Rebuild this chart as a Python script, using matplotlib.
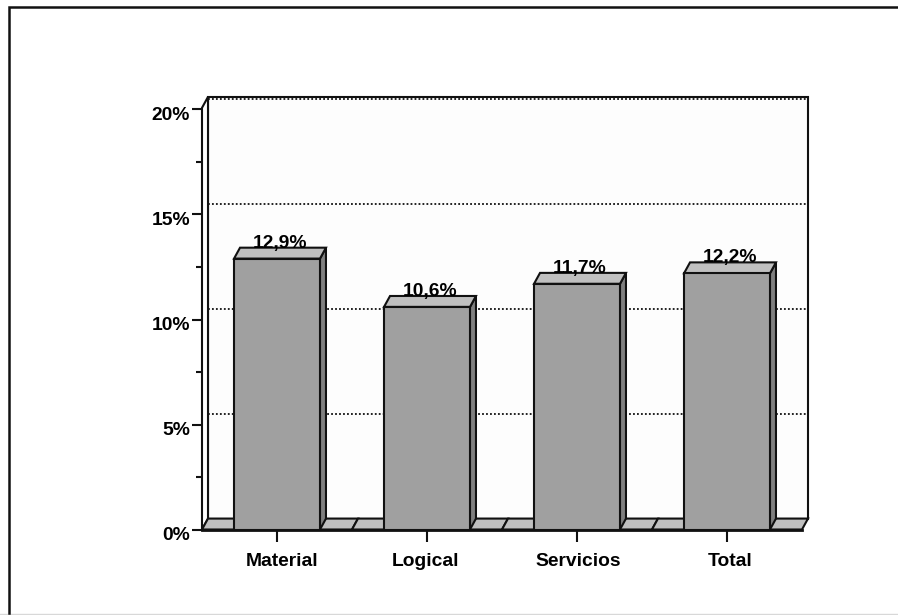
import matplotlib
matplotlib.use('Agg')
import matplotlib.pyplot as plt
from matplotlib.patches import Polygon
from matplotlib.transforms import ScaledTranslation

categories = ['Material', 'Logical', 'Servicios', 'Total']
values = [12.9, 10.6, 11.7, 12.2]
labels = ['12,9%', '10,6%', '11,7%', '12,2%']
major_ticks = [0, 5, 10, 15, 20]
major_labels = ['0%', '5%', '10%', '15%', '20%']
minor_ticks = [2.5, 7.5, 12.5, 17.5]
grid_levels = [5, 10, 15, 20]

W, H = 898, 615
plt.rcParams['font.family'] = ['Liberation Sans', 'DejaVu Sans']

fig = plt.figure(figsize=(W / 100, H / 100), dpi=100)
fig.patch.set_facecolor('white')

# page border: dark on top and left, pale on the bottom
border = fig.add_axes([0, 0, 1, 1], zorder=0)
border.set_xlim(0, W)
border.set_ylim(H, 0)
border.axis('off')
border.plot([0, W], [614, 614], color='#d8d8d8', lw=1)
border.plot([9, 9, W], [613, 7, 7], color='#111111', lw=1.8, solid_joinstyle='miter')

# front plane of the chart, 150 px per category, 21 px per percent
ax = fig.add_axes([202 / W, 1 - 529.5 / H, 600 / W, 420 / H], zorder=1)
ax.set_xlim(-0.5, 3.5)
ax.set_ylim(0, 20)
ax.patch.set_visible(False)
for s in ax.spines.values():
    s.set_visible(False)

dx = 0.04  # depth offset of the 3d look
dy = 0.52
top = 20.6
bw = 0.573
edge = '#111111'


def poly(pts, fc, z, lw=1.5):
    ax.add_patch(Polygon(pts, closed=True, facecolor=fc, edgecolor=edge, lw=lw,
                         zorder=z, clip_on=False, joinstyle='miter'))


# back wall
poly([(-0.5 + dx, dy), (-0.5 + dx, top), (3.5 + dx, top), (3.5 + dx, dy)], '#fdfdfd', 1)
# left wall sliver
poly([(-0.5, 0), (-0.5, top - dy), (-0.5 + dx, top), (-0.5 + dx, dy)], '#ffffff', 1)
# floor, one piece per category
for i in range(len(categories)):
    poly([(i - 0.5, 0), (i - 0.5 + dx, dy), (i + 0.5 + dx, dy), (i + 0.5, 0)], '#c0c0c0', 2)

for g in grid_levels:
    ax.plot([-0.5 + dx, 3.5 + dx], [g + dy, g + dy], color='#111111', lw=1.3,
            linestyle=(0, (1, 1.2)), zorder=2, clip_on=False)

for i, v in enumerate(values):
    x0 = i - bw / 2
    x1 = i + bw / 2
    poly([(x1, 0), (x1 + dx, dy), (x1 + dx, v + dy), (x1, v)], '#808080', 3)
    poly([(x0, v), (x0 + dx, v + dy), (x1 + dx, v + dy), (x1, v)], '#c0c0c0', 3)
    poly([(x0, 0), (x0, v), (x1, v), (x1, 0)], '#a0a0a0', 3)
    ax.text(i + 0.02, v + 0.33, labels[i], ha='center', va='bottom', fontsize=13.9,
            fontweight='bold', color='black', zorder=4, clip_on=False)

ax.plot([-0.5, 3.5], [0, 0], color=edge, lw=2, zorder=4, clip_on=False)

ax.set_xticks(range(len(categories)))
ax.set_xticklabels(categories, fontsize=13.9, fontweight='bold')
ax.set_yticks(major_ticks)
ax.set_yticklabels(major_labels, fontsize=13.9, fontweight='bold')
ax.set_yticks(minor_ticks, minor=True)
ax.tick_params(axis='x', length=8.6, width=1.5, color=edge, pad=8)
ax.tick_params(axis='y', which='major', length=7.2, width=1.5, color=edge, pad=1.4)
ax.tick_params(axis='y', which='minor', length=4.3, width=1.5, color=edge)

# labels sit a bit off their ticks in the original
nudge = [4, -1, 1, 2]
for lab, n in zip(ax.get_xticklabels(), nudge):
    lab.set_transform(lab.get_transform() + ScaledTranslation(n / 72, 0, fig.dpi_scale_trans))
for lab in ax.get_yticklabels():
    lab.set_transform(lab.get_transform() + ScaledTranslation(0, -3 / 72, fig.dpi_scale_trans))

fig.savefig('out.png', dpi=100)
